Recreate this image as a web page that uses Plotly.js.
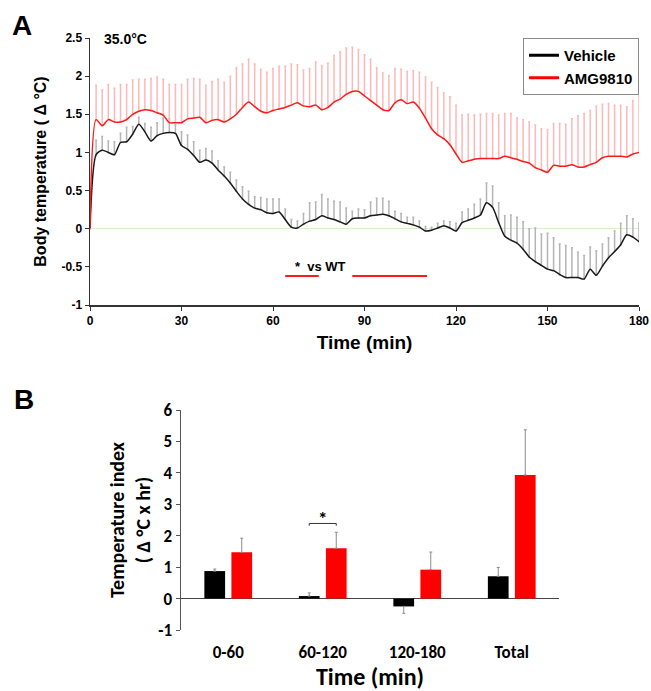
<!DOCTYPE html>
<html>
<head>
<meta charset="utf-8">
<script src="https://cdn.plot.ly/plotly-3.0.1.min.js"></script>
<style>
  html, body { margin: 0; padding: 0; background: #fff; }
  #chart { width: 651px; height: 691px; }
</style>
</head>
<body>
<div id="chart"></div>
<script>
// ---------- Panel A data (time course, every 2 min) ----------
const timeMin = [0,2,4,6,8,10,12,14,16,18,20,22,24,26,28,30,32,34,36,38,40,42,44,46,48,50,52,54,56,58,
  60,62,64,66,68,70,72,74,76,78,80,82,84,86,88,90,92,94,96,98,100,102,104,106,108,110,112,114,116,118,
  120,122,124,126,128,130,132,134,136,138,140,142,144,146,148,150,152,154,156,158,160,162,164,166,168,170,172,174,176,178,180];

const vehicleMean = [0,0.97,1.03,1.00,0.97,1.13,1.14,1.24,1.37,1.27,1.15,1.22,1.25,1.26,1.25,
  1.09,1.04,0.96,0.87,0.90,0.86,0.77,0.69,0.60,0.49,0.39,0.32,0.27,0.25,0.21,
  0.20,0.22,0.12,0.02,0.01,0.06,0.10,0.12,0.17,0.14,0.12,0.09,0.06,0.13,0.14,
  0.14,0.17,0.18,0.19,0.17,0.13,0.09,0.07,0.05,0.02,-0.03,-0.02,0.01,0.04,0.01,
  -0.03,0.08,0.11,0.14,0.18,0.34,0.28,0.08,-0.10,-0.15,-0.19,-0.27,-0.37,-0.43,-0.48,
  -0.53,-0.55,-0.60,-0.64,-0.64,-0.64,-0.66,-0.53,-0.61,-0.49,-0.38,-0.30,-0.21,-0.08,-0.11,-0.17];

const vehicleSem = [0,0.19,0.18,0.15,0.17,0.12,0.19,0.10,0.09,0.11,0.18,0.17,0.20,0.18,0.11,
  0.18,0.19,0.18,0.16,0.15,0.16,0.12,0.12,0.14,0.15,0.16,0.17,0.15,0.16,0.18,
  0.19,0.17,0.14,0.10,0.09,0.14,0.24,0.23,0.28,0.25,0.24,0.26,0.21,0.10,0.12,
  0.11,0.18,0.22,0.21,0.19,0.10,0.11,0.08,0.10,0.08,0.06,0.04,0.06,0.06,0.08,
  0.10,0.14,0.15,0.18,0.21,0.26,0.28,0.26,0.27,0.33,0.34,0.36,0.37,0.44,0.41,
  0.47,0.43,0.40,0.42,0.39,0.33,0.31,0.29,0.32,0.29,0.26,0.27,0.28,0.25,0.24,0.24];

const amgMean = [0,1.43,1.35,1.43,1.40,1.40,1.43,1.50,1.54,1.56,1.55,1.52,1.49,1.39,1.39,
  1.39,1.44,1.45,1.46,1.39,1.42,1.43,1.40,1.44,1.50,1.59,1.66,1.60,1.54,1.52,
  1.55,1.57,1.59,1.62,1.65,1.61,1.60,1.62,1.56,1.59,1.66,1.70,1.76,1.80,1.80,
  1.74,1.68,1.62,1.56,1.55,1.65,1.69,1.64,1.66,1.58,1.45,1.31,1.23,1.18,1.10,
  0.98,0.87,0.89,0.91,0.92,0.92,0.92,0.92,0.95,0.93,0.91,0.88,0.86,0.80,0.77,
  0.74,0.83,0.82,0.82,0.84,0.81,0.81,0.84,0.87,0.93,0.95,0.95,0.95,0.94,0.98,1.00];

const amgSem = [0,0.45,0.47,0.46,0.44,0.49,0.46,0.45,0.42,0.40,0.42,0.47,0.47,0.50,0.50,
  0.50,0.52,0.52,0.50,0.49,0.51,0.53,0.52,0.56,0.61,0.57,0.56,0.56,0.55,0.53,
  0.55,0.56,0.54,0.54,0.50,0.47,0.50,0.57,0.58,0.58,0.61,0.62,0.61,0.58,0.55,
  0.54,0.54,0.49,0.48,0.46,0.45,0.40,0.42,0.41,0.47,0.54,0.61,0.62,0.60,0.63,
  0.64,0.62,0.61,0.58,0.58,0.59,0.59,0.57,0.56,0.58,0.54,0.55,0.54,0.56,0.54,
  0.56,0.55,0.56,0.55,0.60,0.67,0.70,0.71,0.74,0.70,0.69,0.67,0.67,0.66,0.70,0.74];

// significance periods (* vs WT), in minutes, and their level
const sigStart = [64, 86];
const sigEnd   = [75, 110.5];
const sigLevel = -0.62;

const xTicksA = [0, 30, 60, 90, 120, 150, 180];
const yTicksA = [-1, -0.5, 0, 0.5, 1, 1.5, 2, 2.5];
const yTickTextA = ["-1", "-0.5", "0", "0.5", "1", "1.5", "2", "2.5"];

// ---------- Panel B data (temperature index) ----------
const periods = ["0-60", "60-120", "120-180", "Total"];
const vehicleIndex = [0.875, 0.08, -0.25, 0.71];
const vehicleIndexErrUp = [0.065, 0.10, 0, 0.28];
const vehicleIndexErrDown = [0, 0, 0.22, 0];
const amgIndex = [1.47, 1.60, 0.92, 3.93];
const amgIndexErrUp = [0.45, 0.51, 0.56, 1.44];
const yTicksB = [-1, 0, 1, 2, 3, 4, 5, 6];
const yTickTextB = ["-1", "0", "1", "2", "3", "4", "5", "6"];
const sigPeriod = 1;          // index of "60-120"
const bracketLevel = 2.39;

// ---------- styling ----------
const W = 651, H = 691;
const fA = "'Liberation Sans', Arial, sans-serif";
const fB = "Carlito, 'Liberation Sans Narrow', 'DejaVu Sans Condensed', 'Liberation Sans', sans-serif";
const BARGAP = 0.428, BARGROUPGAP = 0.233;
const half = (1 - BARGAP) / 4;

const zeros = a => a.map(() => 0);

const sigX = [], sigY = [];
sigStart.forEach((s, i) => { sigX.push(s, sigEnd[i], null); sigY.push(sigLevel, sigLevel, null); });

const traces = [
  {
    x: timeMin, y: vehicleMean, name: "Vehicle", type: "scatter", mode: "lines", showlegend: false,
    line: { color: "#1a1a1a", width: 1.5, shape: "spline", smoothing: 0.7 },
    error_y: { type: "data", symmetric: false, array: vehicleSem, arrayminus: zeros(vehicleSem),
               color: "#b5b5b5", thickness: 1.5, width: 1 },
    xaxis: "x", yaxis: "y"
  },
  {
    x: timeMin, y: amgMean, name: "AMG9810", type: "scatter", mode: "lines", showlegend: false,
    line: { color: "#ff1a1a", width: 1.5, shape: "spline", smoothing: 0.7 },
    error_y: { type: "data", symmetric: false, array: amgSem, arrayminus: zeros(amgSem),
               color: "#ffb8b8", thickness: 1.5, width: 1 },
    xaxis: "x", yaxis: "y"
  },
  // legend keys (thicker line samples, as in the original legend)
  { x: [null], y: [null], name: "Vehicle", type: "scatter", mode: "lines",
    line: { color: "#000", width: 3 }, xaxis: "x", yaxis: "y" },
  { x: [null], y: [null], name: "AMG9810", type: "scatter", mode: "lines",
    line: { color: "#ff0000", width: 3 }, xaxis: "x", yaxis: "y" },
  {
    x: sigX, y: sigY, type: "scatter", mode: "lines", showlegend: false, hoverinfo: "skip",
    line: { color: "#ff1a1a", width: 2 }, xaxis: "x", yaxis: "y"
  },
  {
    x: periods, y: vehicleIndex, type: "bar", name: "Vehicle", showlegend: false,
    marker: { color: "#000000" },
    error_y: { type: "data", symmetric: false, array: vehicleIndexErrUp, arrayminus: vehicleIndexErrDown,
               color: "#8c8c8c", thickness: 1, width: 1.5 },
    xaxis: "x2", yaxis: "y2"
  },
  {
    x: periods, y: amgIndex, type: "bar", name: "AMG9810", showlegend: false,
    marker: { color: "#ff0000" },
    error_y: { type: "data", symmetric: false, array: amgIndexErrUp, arrayminus: zeros(amgIndexErrUp),
               color: "#8c8c8c", thickness: 1, width: 1.5 },
    xaxis: "x2", yaxis: "y2"
  }
];

const bold = (size, fam) => ({ family: fam, size: size, color: "#000", weight: "bold" });

const layout = {
  width: W, height: H,
  margin: { l: 0, r: 0, t: 0, b: 0 },
  paper_bgcolor: "#fff", plot_bgcolor: "#fff",
  showlegend: true,
  bargap: BARGAP, bargroupgap: BARGROUPGAP, barmode: "group",
  legend: {
    x: 523 / W, y: 1 - 38 / H, xanchor: "left", yanchor: "top",
    bgcolor: "#fff", bordercolor: "#8a8a8a", borderwidth: 1,
    font: bold(15, fA), tracegroupgap: 0, itemwidth: 30
  },
  xaxis: {
    domain: [90 / W, 639 / W], anchor: "y", range: [0, 180],
    tickvals: xTicksA, ticks: "outside", ticklen: 4, tickcolor: "#333", tickwidth: 1,
    showline: true, linecolor: "#333", linewidth: 1.5, showgrid: false, zeroline: false,
    ticklabeloverflow: "allow",
    tickfont: bold(12, fA),
    title: { text: "Time (min)", font: bold(19, fA), standoff: 9 }
  },
  yaxis: {
    domain: [1 - 305 / H, 1 - 38 / H], anchor: "x", range: [-1, 2.5],
    tickvals: yTicksA, ticktext: yTickTextA, ticks: "outside", ticklen: 4, tickcolor: "#333",
    showline: true, linecolor: "#333", linewidth: 1.5, showgrid: false,
    zeroline: true, zerolinecolor: "#d6f2cf", zerolinewidth: 1.5,
    tickfont: bold(12, fA),
    title: { text: "Body temperature ( Δ °C)", font: bold(16, fA), standoff: 11 }
  },
  xaxis2: {
    domain: [181 / W, 559 / W], anchor: "y2", type: "category",
    showline: false, ticks: "", showgrid: false, zeroline: false,
    ticklabelstandoff: 10,
    tickfont: bold(17, fB),
    title: { text: "Time (min)", font: bold(24, fB), standoff: 2 }
  },
  yaxis2: {
    domain: [1 - 630 / H, 1 - 410 / H], anchor: "x2", range: [-1, 6],
    tickvals: yTicksB, ticktext: yTickTextB, ticks: "outside", ticklen: 4, tickcolor: "#555",
    showline: true, linecolor: "#555", linewidth: 1.5, showgrid: false,
    zeroline: true, zerolinecolor: "#444", zerolinewidth: 1.5,
    tickfont: bold(17, fB),
    title: { text: "Temperature index<br>( Δ °C x hr)", font: bold(20, fB), standoff: 2 }
  },
  shapes: [
    {
      type: "path", xref: "x2", yref: "y2",
      path: `M ${sigPeriod - half} ${bracketLevel - 0.07} L ${sigPeriod - half} ${bracketLevel} ` +
            `L ${sigPeriod + half} ${bracketLevel} L ${sigPeriod + half} ${bracketLevel - 0.07}`,
      line: { color: "#333", width: 1 }
    }
  ],
  annotations: [
    { text: "A", xref: "paper", yref: "paper", x: 10 / W, y: 1 - 8 / H, xanchor: "left", yanchor: "top",
      showarrow: false, font: bold(28, fA) },
    { text: "B", xref: "paper", yref: "paper", x: 12 / W, y: 1 - 382 / H, xanchor: "left", yanchor: "top",
      showarrow: false, font: bold(28, fA) },
    { text: "35.0°C", xref: "paper", yref: "paper", x: 102 / W, y: 1 - 39 / H, xanchor: "left", yanchor: "middle",
      showarrow: false, font: bold(14, fA) },
    { text: "*  vs WT", xref: "x", yref: "y", x: (sigStart[0] + sigEnd[0]) / 2 + 6, y: sigLevel + 0.12,
      xanchor: "center", yanchor: "middle", showarrow: false, font: bold(13, fA) },
    { text: "*", xref: "x2", yref: "y2", x: sigPeriod, y: bracketLevel + 0.17, xanchor: "center", yanchor: "middle",
      showarrow: false, font: bold(19, fB) }
  ]
};

Plotly.newPlot("chart", traces, layout, { displayModeBar: false, staticPlot: true });
</script>
</body>
</html>
